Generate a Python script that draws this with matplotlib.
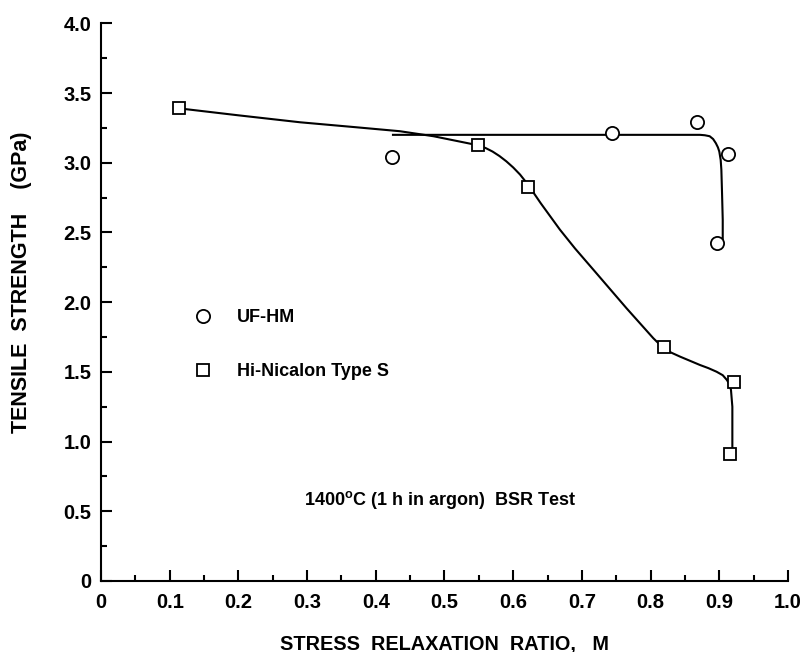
import numpy as np
import matplotlib
matplotlib.use("Agg")
import matplotlib.pyplot as plt

plt.rcParams['font.family'] = ['Liberation Sans', 'DejaVu Sans']
plt.rcParams['font.weight'] = 'bold'
plt.rcParams['mathtext.fontset'] = 'custom'
plt.rcParams['mathtext.rm'] = 'Liberation Sans:bold'
plt.rcParams['mathtext.bf'] = 'Liberation Sans:bold'

# measured points
uf_x = [0.423, 0.744, 0.868, 0.912, 0.896]
uf_y = [3.044, 3.211, 3.293, 3.063, 2.425]
hn_x = [0.1135, 0.549, 0.622, 0.819, 0.922, 0.9156]
hn_y = [3.39, 3.125, 2.826, 1.679, 1.43, 0.909]

# hand drawn fit curves
uf_fit_x = [0.425, 0.60, 0.80, 0.872, 0.879, 0.886, 0.891, 0.895, 0.898, 0.900, 0.902,
            0.903, 0.904, 0.905, 0.905]
uf_fit_y = [3.20, 3.20, 3.20, 3.20, 3.197, 3.19, 3.17, 3.14, 3.11, 3.08, 3.02,
            2.95, 2.78, 2.59, 2.43]
hn_fit_x = [0.1135, 0.20, 0.29, 0.37, 0.435, 0.484, 0.549, 0.56, 0.57, 0.58, 0.59, 0.60,
            0.61, 0.622, 0.64, 0.668, 0.69, 0.717, 0.765, 0.804, 0.818, 0.830, 0.843,
            0.858, 0.872, 0.884, 0.896, 0.905, 0.911, 0.915, 0.917, 0.919, 0.919, 0.919]
hn_fit_y = [3.39, 3.340, 3.290, 3.255, 3.226, 3.190, 3.125, 3.105, 3.080, 3.048, 3.010, 2.966,
            2.915, 2.84, 2.71, 2.52, 2.385, 2.231, 1.956, 1.741, 1.674, 1.638, 1.609,
            1.578, 1.549, 1.527, 1.501, 1.476, 1.442, 1.41, 1.37, 1.25, 1.083, 0.952]

fig = plt.figure(figsize=(8.04, 6.52), dpi=100)
ax = fig.add_axes([101/804, 71/652, 687/804, 557.7/652])

ax.plot(uf_fit_x, uf_fit_y, color='black', lw=1.5, zorder=2)
ax.plot(hn_fit_x, hn_fit_y, color='black', lw=1.5, zorder=2)
ax.plot(uf_x, uf_y, 'o', ms=9.5, mfc='white', mec='black', mew=1.3, ls='none',
        label='UF-HM', zorder=3)
ax.plot(hn_x, hn_y, 's', ms=9, mfc='white', mec='black', mew=1.3, ls='none',
        label='Hi-Nicalon Type S', zorder=3)

ax.set_xlim(0, 1.0)
ax.set_ylim(0, 4.0)
ax.set_xticks(np.arange(0, 1.01, 0.1))
ax.set_xticklabels(['0'] + ['%.1f' % v for v in np.arange(0.1, 1.01, 0.1)])
ax.set_xticks(np.arange(0.05, 1.0, 0.1), minor=True)
ax.set_yticks(np.arange(0, 4.01, 0.5))
ax.set_yticklabels(['0'] + ['%.1f' % v for v in np.arange(0.5, 4.01, 0.5)])
ax.set_yticks(np.arange(0.25, 4.0, 0.5), minor=True)

for s in ['top', 'right']:
    ax.spines[s].set_visible(False)
for s in ['left', 'bottom']:
    ax.spines[s].set_linewidth(1.5)

ax.tick_params(which='both', direction='in', width=1.5, labelsize=14.5)
ax.tick_params(which='major', length=8)
ax.tick_params(which='minor', length=4.3)
ax.tick_params(axis='x', pad=9)
ax.tick_params(axis='y', pad=7)
for t in ax.xaxis.get_major_ticks() + ax.yaxis.get_major_ticks():
    t.tick1line.set_clip_on(False)

ax.set_xlabel('STRESS  RELAXATION  RATIO,   M', fontsize=14.3, fontweight='bold')
ax.xaxis.set_label_coords(0.5, -0.096)
ax.set_ylabel('TENSILE  STRENGTH    (GPa)', fontsize=15.5, fontweight='bold')
ax.yaxis.set_label_coords(-0.101, 0.536)

ax.legend(loc='center left', bbox_to_anchor=(0.136, 0.4235), frameon=False,
          fontsize=13, numpoints=1, handlelength=1.0, handletextpad=1.37,
          labelspacing=2.05, borderpad=0, borderaxespad=0)

ax.text(0.295, 0.58, r'1400$^{\rm o}$C (1 h in argon)  BSR Test', fontsize=13,
        fontweight='bold', va='center', ha='left', transform=ax.transData)

fig.savefig('out.png', dpi=100)
